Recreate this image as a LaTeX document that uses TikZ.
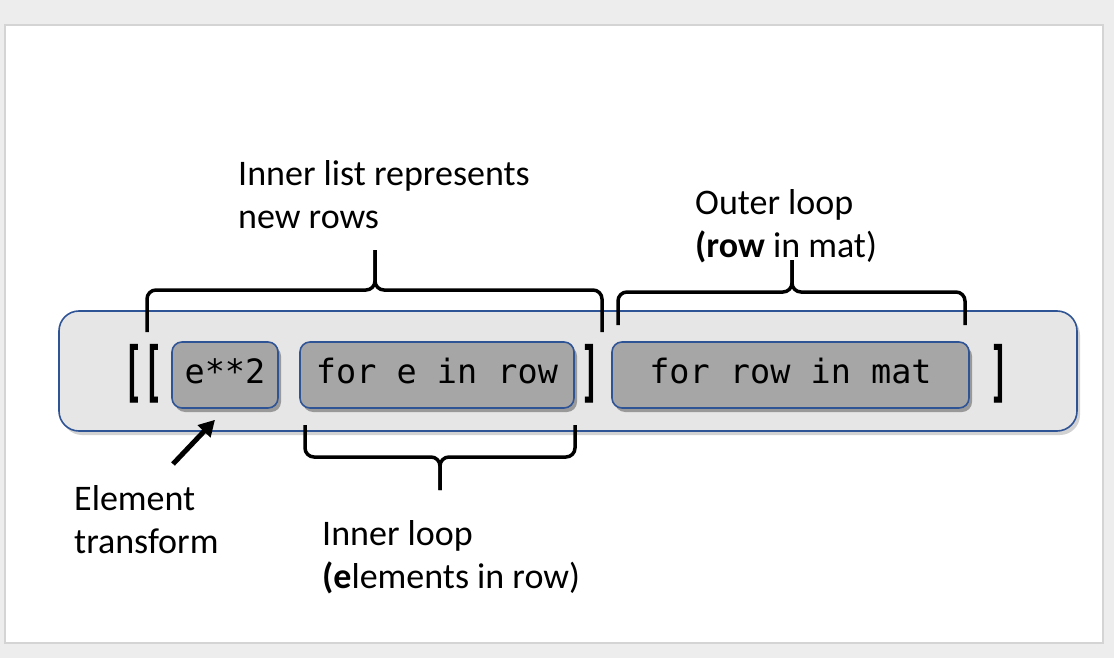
\documentclass[tikz,border=0pt]{standalone}
\usepackage{fontspec}
\setmainfont{Carlito}
\newfontfamily\codefont{DejaVu Sans Mono}
\usetikzlibrary{shadows,arrows.meta,calc}
\definecolor{pagebg}{HTML}{EDEDED}
\definecolor{edgeblue}{RGB}{47,84,150}
\definecolor{outerfill}{HTML}{E6E6E6}
\definecolor{codefill}{HTML}{A6A6A6}
\definecolor{paneledge}{HTML}{D4D4D4}
\begin{document}
\begin{tikzpicture}[x=1pt,y=-1pt,
  codebox/.style={draw=edgeblue, line width=1.6pt, fill=codefill, rounded corners=10pt,
    minimum height=66pt, inner sep=0pt, text height=24pt, text depth=7pt,
    font=\codefont\fontsize{33.5}{40}\selectfont,
    drop shadow={opacity=0.75, shadow xshift=3pt, shadow yshift=-4pt}},
  outerbox/.style={draw=edgeblue, line width=1.6pt, fill=outerfill, rounded corners=20pt,
    inner sep=0pt, drop shadow={opacity=0.35, shadow xshift=3pt, shadow yshift=-4pt}},
  lbl/.style={font=\fontsize{36}{43}\selectfont, anchor=base west, inner sep=0pt, align=left},
  bracepath/.style={draw, line width=3.5pt, rounded corners=9pt},
  brk/.style={font=\codefont\bfseries\fontsize{33}{40}\selectfont, inner sep=0pt},
  pointer/.style={line width=5pt, -{Triangle[length=16pt,width=17pt]}}
]
\useasboundingbox (0,0) rectangle (1114,658);
\fill[pagebg] (0,0) rectangle (1114,658);
\draw[paneledge, fill=white, line width=1.5pt] (5,25) rectangle (1103,643);

\node[outerbox, minimum width=1018pt, minimum height=120pt] (outer) at (568,371) {};

\node[codebox, minimum width=106pt] (e2) at (225,375) {e**2};
\node[codebox, minimum width=274pt] (rowloop) at (437,375) {for e in row};
\node[codebox, minimum width=357pt] (matloop) at (790.5,375) {for row in mat};

\node[brk] (open) at (143.5,374) {\scalebox{1}[2]{[[}};
\node[brk] (closeinner) at (590.5,374) {\scalebox{1}[2]{]}};
\node[brk] (closeouter) at (999.5,374) {\scalebox{1}[2]{]}};

% braces
\draw[bracepath] (147,332) -- (147,290) -- (375,290) -- (375,250);
\draw[bracepath] (602,332) -- (602,290) -- (375,290) -- (375,250);
\draw[bracepath] (618,325) -- (618,292) -- (792,292) -- (792,260);
\draw[bracepath] (965,325) -- (965,292) -- (792,292) -- (792,260);
\draw[bracepath] (305,425) -- (305,457) -- (440,457) -- (440,490);
\draw[bracepath] (575,425) -- (575,457) -- (440,457) -- (440,490);

% labels (base anchor = baseline of the last line)
\node[lbl] (innerlist) at (238,228) {Inner list represents\\new rows};
\node[lbl] (outerlbl) at (695,257) {Outer loop\\\textbf{(row} in mat)};
\node[lbl] (element) at (74,553) {Element\\transform};
\node[lbl] (innerloop) at (322,588) {Inner loop\\\textbf{(e}lements in row)};

% arrow
\coordinate (arrowtail) at (173,464);
\draw[pointer] (arrowtail) -- ($(e2.south)+(-10,11)$);
\end{tikzpicture}
\end{document}
